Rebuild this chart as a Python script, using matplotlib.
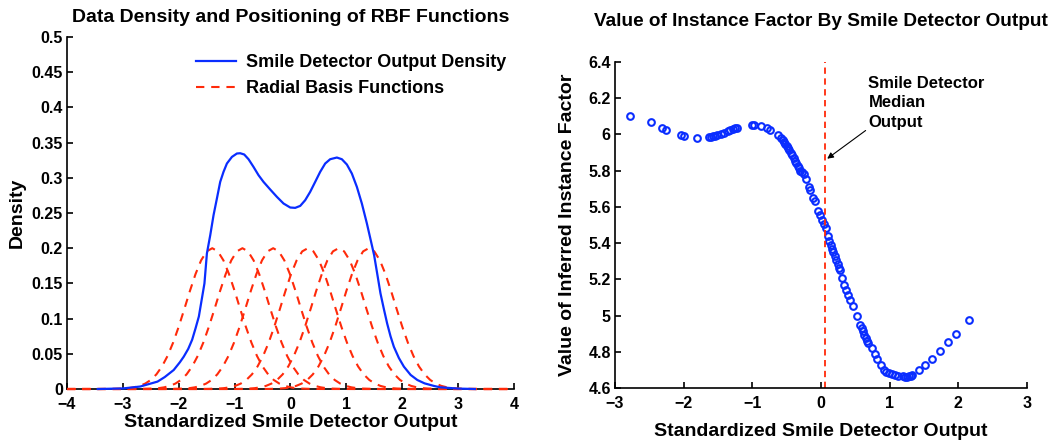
import matplotlib
matplotlib.use("Agg")
import matplotlib.pyplot as plt
import numpy as np

plt.rcParams['font.family'] = ['Liberation Sans', 'DejaVu Sans']
plt.rcParams['font.weight'] = 'bold'

# ---- left panel: density of smile detector output ----
density_x = [-3.45, -3.0, -2.69, -2.38, -2.25, -2.09, -1.98, -1.91, -1.83, -1.76,
             -1.70, -1.64, -1.54, -1.496, -1.436, -1.377, -1.317, -1.258, -1.199, -1.138,
             -1.048, -0.959, -0.90, -0.828, -0.751, -0.662, -0.572, -0.483, -0.363, -0.243,
             -0.125, -0.005, 0.084, 0.174, 0.263, 0.352, 0.442, 0.531, 0.621, 0.71,
             0.83, 0.919, 1.009, 1.098, 1.188, 1.277, 1.367, 1.456, 1.497, 1.56,
             1.61, 1.67, 1.73, 1.79, 1.85, 1.94, 2.03, 2.15, 2.27, 2.40,
             2.57, 2.68, 3.0, 3.3]
density_y = [0.0, 0.0008, 0.0035, 0.0105, 0.017, 0.027, 0.038, 0.046, 0.057, 0.070,
             0.086, 0.103, 0.150, 0.1926, 0.2186, 0.247, 0.2706, 0.2942, 0.3084, 0.3203,
             0.3297, 0.3345, 0.3349, 0.3331, 0.3264, 0.3155, 0.3037, 0.2942, 0.2834, 0.2729,
             0.2635, 0.2578, 0.2573, 0.2601, 0.2682, 0.280, 0.2942, 0.3084, 0.3203, 0.3264,
             0.3288, 0.3264, 0.3189, 0.3061, 0.2871, 0.2635, 0.2352, 0.2044, 0.190, 0.160,
             0.136, 0.114, 0.093, 0.075, 0.060, 0.044, 0.0317, 0.020, 0.0128, 0.008,
             0.0043, 0.0024, 0.0006, 0.0]

# radial basis functions: centres and half profile (distance from centre -> height)
rbf_centers = [-1.40, -0.86, -0.31, 0.31, 0.86, 1.40]
rbf_offsets = [0.0, 0.1, 0.2, 0.3, 0.4, 0.5, 0.6, 0.7, 0.8, 0.9, 1.0,
               1.1, 1.2, 1.3, 1.4, 1.5, 1.6, 1.8, 2.0]
rbf_heights = [0.200, 0.1955, 0.1827, 0.1632, 0.1393, 0.1136, 0.0886, 0.0660, 0.0470,
               0.0320, 0.0208, 0.0129, 0.0077, 0.0044, 0.0024, 0.0012, 0.0006,
               0.0001, 0.0]

# ---- right panel: inferred instance factor ----
factor_x = [-2.78, -2.48, -2.31, -2.26, -2.04, -1.99, -1.80, -1.63, -1.60, -1.57,
            -1.54, -1.51, -1.46, -1.41, -1.35, -1.32, -1.28, -1.25, -1.22, -1.01,
            -0.98, -0.87, -0.79, -0.74, -0.63, -0.58, -0.56, -0.54, -0.52, -0.50,
            -0.48, -0.46, -0.44, -0.42, -0.40, -0.38, -0.36, -0.34, -0.32, -0.30,
            -0.27, -0.25, -0.22, -0.18, -0.16, -0.11, -0.09, -0.04, -0.02, 0.01,
            0.05, 0.07, 0.10, 0.12, 0.14, 0.16, 0.18, 0.20, 0.22, 0.24,
            0.26, 0.27, 0.305, 0.34, 0.36, 0.39, 0.42, 0.46, 0.52, 0.57,
            0.59, 0.61, 0.63, 0.65, 0.67, 0.69, 0.74, 0.78, 0.82, 0.87,
            0.92, 0.95, 0.99, 1.03, 1.07, 1.12, 1.19, 1.22, 1.25, 1.28,
            1.31, 1.33, 1.42, 1.51, 1.62, 1.73, 1.85, 1.97, 2.16]
factor_y = [6.100, 6.067, 6.038, 6.026, 5.995, 5.990, 5.978, 5.985, 5.987, 5.990,
            5.993, 5.996, 6.002, 6.007, 6.020, 6.025, 6.029, 6.033, 6.036, 6.050,
            6.050, 6.045, 6.034, 6.023, 5.998, 5.978, 5.968, 5.958, 5.948, 5.937,
            5.925, 5.912, 5.898, 5.884, 5.870, 5.855, 5.840, 5.826, 5.812, 5.800,
            5.790, 5.780, 5.754, 5.712, 5.692, 5.649, 5.634, 5.575, 5.557, 5.530,
            5.503, 5.485, 5.437, 5.410, 5.390, 5.370, 5.350, 5.330, 5.308, 5.287,
            5.265, 5.253, 5.207, 5.170, 5.143, 5.115, 5.087, 5.050, 4.999, 4.949,
            4.930, 4.912, 4.895, 4.878, 4.862, 4.848, 4.821, 4.789, 4.760, 4.729,
            4.701, 4.690, 4.683, 4.676, 4.673, 4.668, 4.664, 4.662, 4.663, 4.665,
            4.668, 4.673, 4.697, 4.725, 4.760, 4.802, 4.852, 4.896, 4.973]
median_output = 0.06

blue = '#0a2dff'
red = '#ff2a0a'

fig = plt.figure(figsize=(10.6, 4.4), dpi=100)
ax1 = fig.add_axes([0.0632, 0.1159, 0.4217, 0.8])
ax2 = fig.add_axes([0.5802, 0.1182, 0.3887, 0.7409])

ax1.plot(density_x, density_y, color=blue, lw=1.6, zorder=4, clip_on=False,
         label='Smile Detector Output Density')
off = np.array(rbf_offsets)
h = np.array(rbf_heights)
for i, c in enumerate(rbf_centers):
    xs = np.concatenate([[-4], c - off[::-1], c + off[1:], [4]])
    ys = np.concatenate([[0], h[::-1], h[1:], [0]])
    ax1.plot(xs, ys, color=red, lw=1.5, ls=(0, (4, 3.3)), zorder=3, clip_on=False,
             label='Radial Basis Functions' if i == 0 else None)

ax1.set_xlim(-4, 4)
ax1.set_ylim(0, 0.5)
ax1.set_xticks(np.arange(-4, 5, 1))
ax1.set_yticks(np.arange(0, 0.501, 0.05))
ax1.set_yticklabels(['0', '0.05', '0.1', '0.15', '0.2', '0.25', '0.3', '0.35',
                     '0.4', '0.45', '0.5'])
ax1.set_title('Data Density and Positioning of RBF Functions', fontsize=14,
              fontweight='bold', pad=11)
ax1.set_xlabel('Standardized Smile Detector Output', fontsize=14,
               fontweight='bold', labelpad=1.5)
ax1.set_ylabel('Density', fontsize=14, fontweight='bold', labelpad=4)
ax1.legend(loc='upper right', frameon=False, fontsize=13, handlelength=2.2,
           handletextpad=0.6, labelspacing=0.5, bbox_to_anchor=(1.02, 0.998))

ax2.plot(factor_x, factor_y, 'o', mfc='none', mec=blue, ms=4.8, mew=1.5)
ax2.plot([median_output, median_output], [4.6, 6.4], color=red, lw=1.3,
         ls=(0, (3.5, 2.5)))
ax2.annotate('Smile Detector\nMedian\nOutput', xy=(0.09, 5.866), xytext=(0.69, 6.325),
             fontsize=12, fontweight='bold', va='top', ha='left', linespacing=1.4,
             arrowprops=dict(arrowstyle='-|>', color='black', lw=0.8,
                             mutation_scale=9, shrinkA=0, shrinkB=0,
                             relpos=(-0.02, 0.0)))
ax2.set_xlim(-3, 3)
ax2.set_ylim(4.6, 6.4)
ax2.set_xticks(np.arange(-3, 4, 1))
ax2.set_yticks(np.arange(4.6, 6.41, 0.2))
ax2.set_yticklabels(['4.6', '4.8', '5', '5.2', '5.4', '5.6', '5.8', '6', '6.2', '6.4'])
ax2.set_title('Value of Instance Factor By Smile Detector Output', fontsize=13.7,
              fontweight='bold', pad=26)
ax2.set_xlabel('Standardized Smile Detector Output', fontsize=14,
               fontweight='bold', labelpad=9)
ax2.set_ylabel('Value of Inferred Instance Factor', fontsize=14,
               fontweight='bold', labelpad=9)

for ax in (ax1, ax2):
    ax.spines['top'].set_visible(False)
    ax.spines['right'].set_visible(False)
    for s in ('left', 'bottom'):
        ax.spines[s].set_linewidth(1.2)
        ax.spines[s].set_zorder(2)
    ax.tick_params(direction='in', length=4, width=1.2, labelsize=11.5)
    ax.tick_params(axis='x', pad=5.5)
    ax.tick_params(axis='y', pad=3)
    for lab in ax.get_xticklabels() + ax.get_yticklabels():
        lab.set_fontweight('bold')

fig.savefig('out.png', dpi=100)
